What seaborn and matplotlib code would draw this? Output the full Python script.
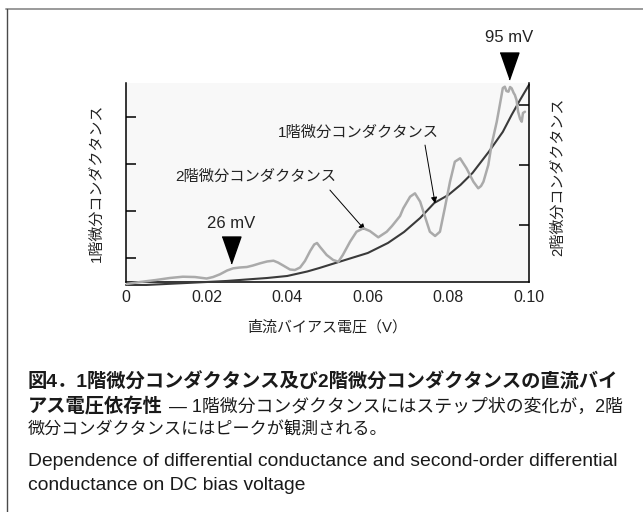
import matplotlib
matplotlib.use("Agg")
import matplotlib.pyplot as plt
import seaborn as sns
from matplotlib.lines import Line2D

# ---------------- data ----------------
bias_first = [0.000, 0.005, 0.010, 0.015, 0.020, 0.025, 0.030, 0.035, 0.040,
              0.045, 0.048, 0.052, 0.056, 0.060, 0.065, 0.069, 0.073, 0.0765,
              0.080, 0.083, 0.086, 0.090, 0.0935, 0.0957, 0.0978, 0.100]
first_cond = [0.426, 0.426, 0.447, 0.468, 0.489, 0.511, 0.543, 0.574, 0.617,
              0.713, 0.787, 0.894, 1.000, 1.106, 1.319, 1.553, 1.851, 2.170,
              2.340, 2.553, 2.809, 3.255, 3.681, 4.043, 4.362, 4.681]

bias_second = [0.0002, 0.0035, 0.0074, 0.0109, 0.0141, 0.0171, 0.0200, 0.0216,
               0.0233, 0.0251, 0.0266, 0.0283, 0.0300, 0.0315, 0.0333, 0.0350,
               0.0366, 0.0377, 0.0390, 0.0407, 0.0419, 0.0432, 0.0444, 0.0457,
               0.0467, 0.0474, 0.0481, 0.0498, 0.0514, 0.0527, 0.0538, 0.0556,
               0.0572, 0.0589, 0.0605, 0.0626, 0.0647, 0.0660, 0.0672, 0.0680,
               0.0688, 0.0705, 0.0717, 0.0730, 0.0742, 0.0754, 0.0767, 0.0779,
               0.0791, 0.0804, 0.0816, 0.0829, 0.0845, 0.0862, 0.0874, 0.0881,
               0.0887, 0.0899, 0.0907, 0.0920, 0.0928, 0.0932, 0.0935, 0.0940,
               0.0944, 0.0949, 0.0953, 0.0957, 0.0962, 0.0965, 0.0969, 0.0973,
               0.0978, 0.0982, 0.0985, 0.0990]
second_cond = [0.017, 0.050, 0.083, 0.117, 0.138, 0.133, 0.108, 0.133,
               0.178, 0.242, 0.278, 0.292, 0.300, 0.325, 0.362, 0.392,
               0.405, 0.375, 0.325, 0.258, 0.250, 0.292, 0.400, 0.567,
               0.675, 0.700, 0.638, 0.500, 0.417, 0.388, 0.500, 0.722,
               0.888, 0.945, 0.900, 0.795, 0.888, 0.983, 1.083, 1.150,
               1.278, 1.472, 1.528, 1.388, 1.138, 0.888, 0.817, 0.888,
               1.278, 1.722, 2.055, 2.112, 1.945, 1.722, 1.612, 1.650,
               1.722, 2.000, 2.333, 2.722, 3.017, 3.167, 3.283, 3.305,
               3.233, 3.222, 3.300, 3.278, 3.200, 3.167, 3.083, 2.888,
               2.767, 2.722, 2.867, 2.888]

x_ticks = [0.0, 0.02, 0.04, 0.06, 0.08, 0.10]
x_tick_labels = ["0", "0.02", "0.04", "0.06", "0.08", "0.10"]
left_ticks = [1, 2, 3, 4]
right_ticks = [1, 2, 3]
peak_mv = [26, 95]
peak_labels = ["26 mV", "95 mV"]

label_first = "1階微分コンダクタンス"
label_second = "2階微分コンダクタンス"
xlabel = "直流バイアス電圧（V）"
cap_head = "図4．1階微分コンダクタンス及び2階微分コンダクタンスの直流バイ"
cap_head2 = "アス電圧依存性"
cap_body2 = "― 1階微分コンダクタンスにはステップ状の変化が，2階"
cap_body3 = "微分コンダクタンスにはピークが観測される。"
cap_en1 = "Dependence of differential conductance and second-order differential"
cap_en2 = "conductance on DC bias voltage"

# ---------------- style ----------------
sns.set_style("white")
plt.rcParams["font.family"] = ["Liberation Sans", "Noto Sans CJK JP"]

W, H = 643, 512
fig = plt.figure(figsize=(W / 100, H / 100), dpi=100)
fig.patch.set_facecolor("white")

def fx(px):
    return px / W

def fy(py):
    return 1 - py / H

ax = fig.add_axes([fx(126), fy(282), fx(529) - fx(126), fy(83) - fy(282)])
ax2 = ax.twinx()
ax.set_facecolor("#f8f8f8")
ax2.patch.set_visible(False)

dark = "#3a3a3a"
gray = "#aaaaaa"

sns.lineplot(x=bias_first, y=first_cond, ax=ax, color=dark, linewidth=1.5,
             clip_on=False, zorder=3)
sns.lineplot(x=bias_second, y=second_cond, ax=ax2, color=gray, linewidth=1.8,
             clip_on=False, zorder=3)

ax.set_xlim(0, 0.10)
ax.set_ylim(0.489, 4.72)
ax2.set_ylim(0.05, 3.367)

ax.set_xticks(x_ticks)
ax.set_xticklabels(x_tick_labels, fontsize=11.5)
ax.set_yticks(left_ticks)
ax.set_yticklabels([])
ax2.set_yticks(right_ticks)
ax2.set_yticklabels([])

ax.tick_params(axis="x", direction="in", length=7, width=1.1, color="black",
               pad=6, labelcolor="#222222")
ax.tick_params(axis="y", direction="in", length=7, width=1.1, color="black")
ax2.tick_params(axis="y", direction="in", length=7, width=1.1, color="black")

for a in (ax, ax2):
    a.spines["top"].set_visible(False)
    for s in ("left", "bottom", "right"):
        a.spines[s].set_color("black")
        a.spines[s].set_linewidth(1.1)
ax.spines["right"].set_visible(False)
ax2.spines["left"].set_visible(False)
ax2.spines["bottom"].set_visible(False)

ax.set_xlabel(xlabel, fontsize=10.8, color="#222222", va="center")
ax.xaxis.set_label_coords(0.5, -(327 - 282) / 199)
ax.set_ylabel(label_first, fontsize=10.8, color="#222222", va="center")
ax.yaxis.set_label_coords(-(126 - 97) / 403, 0.5)
ax2.set_ylabel(label_second, fontsize=10.8, color="#222222", va="center",
               rotation=90)
ax2.yaxis.set_label_coords((558 - 126) / 403, 0.53)

# peak markers
tri = [(-0.7, 1.0), (0.7, 1.0), (0.0, -1.0)]
xt = ax.get_xaxis_transform()
marker_y = [0.163, 1.085]
text_y = [0.296, 1.229]
for mv, lab, my, ty in zip(peak_mv, peak_labels, marker_y, text_y):
    ax.plot([mv / 1000], [my], transform=xt, marker=tri, markersize=19.4,
            color="black", linestyle="none", clip_on=False, zorder=5)
    ax.text(mv / 1000, ty, lab, transform=xt, ha="center", va="center",
            fontsize=12, color="#222222")

# curve labels with arrows
ax.text(0.0576, 0.750, label_first, transform=xt, ha="center", va="center",
        fontsize=11, color="#222222")
ax.text(0.0322, 0.530, label_second, transform=xt, ha="center", va="center",
        fontsize=11, color="#222222")
arrow_kw = dict(arrowstyle="-|>", color="black", lw=0.7, mutation_scale=9,
                shrinkA=0, shrinkB=0)
ax.annotate("", xy=(0.0767, 0.395), xycoords=xt, xytext=(0.0742, 0.688),
            textcoords=xt, arrowprops=arrow_kw)
ax.annotate("", xy=(0.0593, 0.261), xycoords=xt, xytext=(0.0506, 0.462),
            textcoords=xt, arrowprops=arrow_kw)

# caption
cap_col = "#1a1a1a"
fig.text(fx(28), fy(382.5), cap_head, fontsize=13.9, fontweight="bold",
         ha="left", va="center", color=cap_col)
fig.text(fx(28), fy(407), cap_head2, fontsize=13.9, fontweight="bold",
         ha="left", va="center", color=cap_col)
fig.text(fx(169), fy(407), cap_body2, fontsize=12.85, ha="left", va="center",
         color=cap_col)
fig.text(fx(28), fy(430), cap_body3, fontsize=12.3, ha="left", va="center",
         color=cap_col)
fig.text(fx(28), fy(462), cap_en1, fontsize=13.9, ha="left", va="center",
         color=cap_col)
fig.text(fx(28), fy(485), cap_en2, fontsize=13.9, ha="left", va="center",
         color=cap_col)

# frame lines of the figure panel
fig.add_artist(Line2D([fx(6), 1.0], [fy(9), fy(9)], transform=fig.transFigure,
                      color="#9a9a9a", linewidth=1.4))
fig.add_artist(Line2D([fx(6.5), fx(6.5)], [0.0, fy(9)], transform=fig.transFigure,
                      color="#4a4a4a", linewidth=1.0))

fig.savefig("out.png", dpi=100)
